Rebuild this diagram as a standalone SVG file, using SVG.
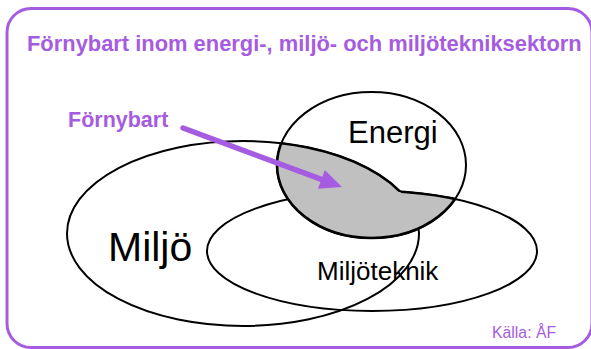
<svg xmlns="http://www.w3.org/2000/svg" width="591" height="349" viewBox="0 0 591 349">
  <style>
    .purple { fill: #A55CE0; font-family: "Liberation Sans", Arial, sans-serif; }
    .bold { font-weight: bold; }
    .label { fill: #000; font-family: "Liberation Sans", Arial, sans-serif; }
    .outline { fill: none; stroke: #000; stroke-width: 2; }
    .edge { fill: none; stroke: #000; stroke-width: 2.6; }
  </style>
  <defs>
    <ellipse id="miljoShape" cx="243" cy="233.5" rx="176" ry="92.5"/>
    <ellipse id="teknikShape" cx="372" cy="251" rx="165" ry="60"/>
    <ellipse id="energiShape" cx="371.5" cy="165" rx="94.5" ry="73"/>
    <clipPath id="clipEnergi"><use href="#energiShape"/></clipPath>
    <clipPath id="clipUnion"><use href="#miljoShape"/><use href="#teknikShape"/></clipPath>
    <mask id="maskEnergiNotTeknik" maskUnits="userSpaceOnUse" x="0" y="0" width="591" height="349">
      <use href="#energiShape" fill="#fff"/>
      <use href="#teknikShape" fill="#000"/>
    </mask>
    <mask id="maskEnergiNotMiljo" maskUnits="userSpaceOnUse" x="0" y="0" width="591" height="349">
      <use href="#energiShape" fill="#fff"/>
      <use href="#miljoShape" fill="#000"/>
    </mask>
    <marker id="arrowHead" markerUnits="userSpaceOnUse" markerWidth="24" markerHeight="22" refX="0" refY="10" orient="auto" overflow="visible">
      <polygon points="0,0 22,10 0,20" fill="#A55CE0"/>
    </marker>
  </defs>

  <rect width="591" height="349" fill="#fff"/>

  <g id="frame">
    <rect x="7" y="8.5" width="585" height="339" rx="24" ry="24" fill="none" stroke="#A55CE0" stroke-width="3"/>
  </g>

  <g id="title">
    <text class="purple bold" x="27" y="51" font-size="21.9">Förnybart inom energi-, miljö- och miljötekniksektorn</text>
  </g>

  <g id="node-miljo">
    <use href="#miljoShape" class="outline"/>
    <text class="label" x="108" y="261" font-size="41">Miljö</text>
  </g>

  <g id="node-miljoteknik">
    <use href="#teknikShape" class="outline"/>
  </g>

  <g id="node-energi">
    <use href="#energiShape" class="outline"/>
    <text class="label" x="348" y="143" font-size="31">Energi</text>
  </g>

  <g id="node-fornybart-area">
    <g clip-path="url(#clipEnergi)">
      <use href="#miljoShape" fill="#C0C0C0"/>
      <use href="#teknikShape" fill="#C0C0C0"/>
    </g>
    <g clip-path="url(#clipUnion)">
      <use href="#energiShape" class="edge"/>
    </g>
    <g mask="url(#maskEnergiNotTeknik)">
      <use href="#miljoShape" class="edge"/>
    </g>
    <g mask="url(#maskEnergiNotMiljo)">
      <use href="#teknikShape" class="edge"/>
    </g>
  </g>

  <g id="label-miljoteknik">
    <text class="label" x="317" y="280" font-size="26">Miljöteknik</text>
  </g>

  <g id="label-fornybart">
    <text class="purple bold" x="68" y="127" font-size="21.5">Förnybart</text>
  </g>

  <g id="connectors">
    <line x1="183" y1="128" x2="321.4" y2="179.3" stroke="#A55CE0" stroke-width="5.5" stroke-linecap="round" marker-end="url(#arrowHead)"/>
  </g>

  <g id="source">
    <text class="purple" x="492" y="338" font-size="15.8">Källa: ÅF</text>
  </g>
</svg>
